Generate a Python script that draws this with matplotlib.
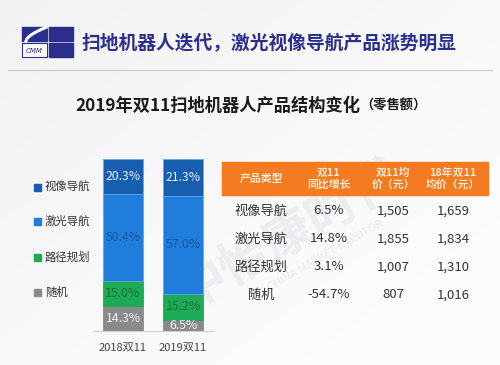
import numpy as np
import matplotlib
matplotlib.use("Agg")
import matplotlib.pyplot as plt
from matplotlib.patches import Rectangle

FAM = ['Noto Sans CJK SC', 'DejaVu Sans']
plt.rcParams['font.family'] = FAM

# ---------------- data ----------------
years = ['2018双11', '2019双11']
categories = ['随机', '路径规划', '激光导航', '视像导航']          # bottom -> top
shares_2018 = [14.3, 15.0, 50.4, 20.3]
shares_2019 = [6.5, 15.2, 57.0, 21.3]

table_header = ['产品类型', '双11\n同比增长', '双11均\n价（元）', '18年双11\n均价（元）']
table_types = ['视像导航', '激光导航', '路径规划', '随机']
yoy_growth = ['6.5%', '14.8%', '3.1%', '-54.7%']
avg_price_2019 = ['1,505', '1,855', '1,007', '807']
avg_price_2018 = ['1,659', '1,834', '1,310', '1,016']

title = '扫地机器人迭代，激光视像导航产品涨势明显'
subtitle = '2019年双11扫地机器人产品结构变化'
subtitle_note = '（零售额）'

# ---------------- styles ----------------
seg_colors = ['#8a8a8a', '#1dab55', '#1f7edc', '#175fae']
seg_text = ['#f4f4f4', '#17713a', '#1a56a0', '#e6eef8']
navy = '#2b2f8c'
orange = '#f47b20'

W, H = 500, 365
fig = plt.figure(figsize=(W / 100, H / 100), dpi=100)

# background / decoration axes in pixel coordinates
bg = fig.add_axes([0, 0, 1, 1])
bg.set_xlim(0, W)
bg.set_ylim(H, 0)
bg.axis('off')
yy, xx = np.mgrid[0:H, 0:W]
grad = 0.955 + 0.04 * np.clip((xx / W * 0.6 + yy / H * 0.6), 0, 1)
bg.imshow(np.dstack([grad * 0.995, grad * 0.995, grad]), extent=[0, W, H, 0],
          aspect='auto', zorder=0)

# watermark
bg.text(290, 235, '中怡康时代', fontsize=36, color='#c8ccd4', alpha=0.25,
        rotation=30, ha='center', va='center', fontweight='bold', zorder=1)
bg.text(325, 255, 'CHINA MARKET MONITOR', fontsize=8, color='#c8ccd4', alpha=0.35,
        rotation=30, ha='center', va='center', zorder=1)

# logo
bg.add_patch(Rectangle((49, 27), 24, 14, color=navy, zorder=2))
bg.add_patch(Rectangle((49, 43), 24, 14, color=navy, zorder=2))
bg.add_patch(Rectangle((22, 27), 25, 14, color=navy, zorder=2))
t = np.linspace(0, 1, 30)
bg.plot(26 + 21 * t, 41 - 14 * t ** 0.6, color='white', lw=2.2, zorder=3)
bg.add_patch(Rectangle((22, 43), 25, 14, facecolor='white', edgecolor=navy, lw=0.8, zorder=2))
bg.text(34.5, 51, 'CMM', fontsize=5, color=navy, ha='center', va='center',
        style='italic', family='DejaVu Sans', zorder=3)

# title & divider
bg.text(82, 43, title, fontsize=13.5, fontweight='bold', color=navy, ha='left', va='center', zorder=3)
bg.plot([8, 492], [70, 70], color='#c9c9cc', lw=0.8, zorder=2)
sub = bg.text(75, 106, subtitle, fontsize=12.4, fontweight='bold', color='#1a1a1a',
              ha='left', va='center', zorder=3)
fig.canvas.draw()
ext = sub.get_window_extent(renderer=fig.canvas.get_renderer())
x_end = bg.transData.inverted().transform((ext.x1, ext.y0))[0]
bg.text(x_end, 106, subtitle_note, fontsize=9.5, fontweight='bold', color='#1a1a1a',
        ha='left', va='center', zorder=3)

# legend (top -> bottom)
leg_y = [187, 221, 257, 292]
for i, y in enumerate(leg_y):
    ci = len(categories) - 1 - i
    bg.add_patch(Rectangle((34, y - 3.5), 7, 7, color=seg_colors[ci], zorder=3))
    bg.text(45, y, categories[ci], fontsize=8.2, color='#333333', ha='left', va='center', zorder=3)

# table
bg.add_patch(Rectangle((222, 162), 266, 33, color=orange, zorder=2))
col_x = [261, 329, 393, 453]
for x, h in zip(col_x, table_header):
    bg.text(x, 178.5, h, fontsize=7.8, color='#fde8d6', ha='center', va='center',
            linespacing=1.15, fontweight='bold', zorder=3)
row_y = [211, 239, 267, 295]
for r, y in enumerate(row_y):
    vals = [table_types[r], yoy_growth[r], avg_price_2019[r], avg_price_2018[r]]
    for x, v in zip(col_x, vals):
        bg.text(x, y, v, fontsize=9.5, color='#333333', ha='center', va='center', zorder=3)

# ---------------- stacked bars ----------------
ax = fig.add_axes([93 / W, 34 / H, 120 / W, 172 / H])
ax.patch.set_alpha(0)
ax.set_xlim(-0.5, 1.5)
ax.set_ylim(0, 100)
x = np.arange(len(years))
series = np.array([shares_2018, shares_2019]).T  # categories x years
bottom = np.zeros(len(years))
for i, cat in enumerate(categories):
    edge = '#5aaaf0' if i >= 2 else seg_colors[i]
    ax.bar(x, series[i], bottom=bottom, width=0.667, color=seg_colors[i],
           edgecolor=edge, linewidth=0.6)
    for xi, b, v in zip(x, bottom, series[i]):
        ax.text(xi, b + v / 2, f'{v:.1f}%', ha='center', va='center',
                fontsize=8.8, color=seg_text[i])
    bottom += series[i]

for s in ['top', 'right', 'left']:
    ax.spines[s].set_visible(False)
ax.spines['bottom'].set_color('#d0d0d0')
ax.set_yticks([])
ax.set_xticks(x)
ax.set_xticklabels(years, fontsize=8, color='#444444', family=FAM)
ax.tick_params(axis='x', length=0, pad=9)

fig.savefig('out.png', dpi=100)
